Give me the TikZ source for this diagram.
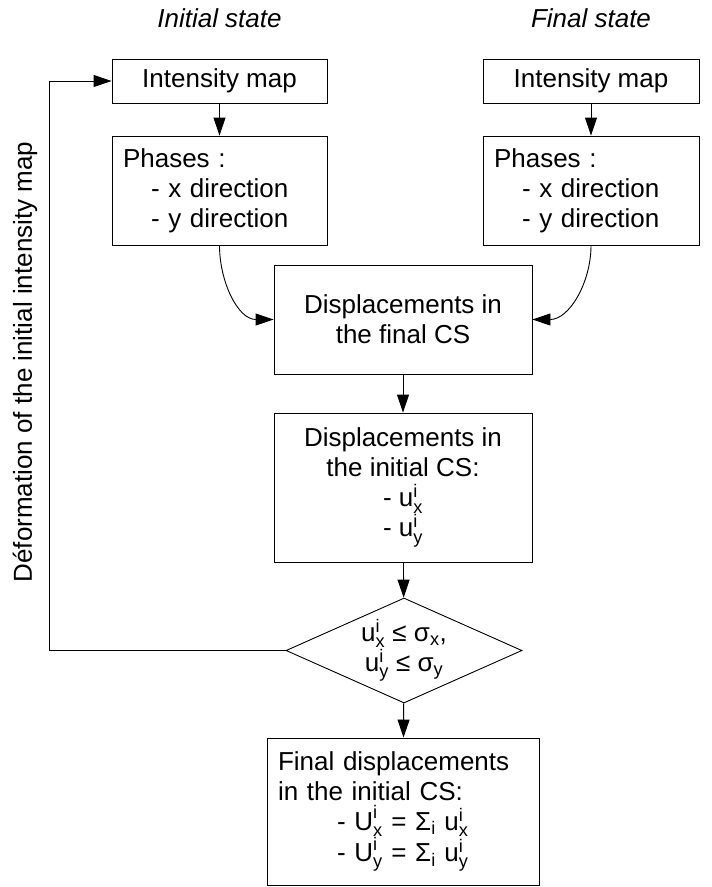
\documentclass[tikz,border=0pt]{standalone}
\usepackage{fontspec}
\setmainfont{Liberation Sans}
\usepackage{amsmath}
\usetikzlibrary{arrows.meta,shapes.geometric}
\tikzset{
  txt/.style={font=\fontsize{26}{30}\selectfont},
  head/.style={font=\fontsize{26}{30}\selectfont\itshape},
  blk/.style={txt, draw, inner sep=0pt, align=center},
  lblk/.style={txt, draw, inner ysep=0pt, inner xsep=11pt, align=left}
}
\newcommand{\idx}[3]{$\text{#1}^{\text{#3}}_{\text{#2}}$}
\newcommand{\lowidx}[2]{$\text{#1}_{\text{#2}}$}

\begin{document}
\begin{tikzpicture}[x=1pt,y=-1pt,line width=0.9pt,>={Triangle[length=18pt,width=12pt]}]
\useasboundingbox (0,0) rectangle (712,887);

\node[head] (initial) at (219.5,18) {Initial state};
\node[head] (final) at (591,18) {Final state};

\node[blk, minimum width=215pt, minimum height=44pt] (imapL) at (219.5,81) {Intensity map};
\node[blk, minimum width=216pt, minimum height=44pt] (imapR) at (591,81) {Intensity map};

\node[lblk, text width=193pt, minimum height=109pt] (phL) at (219.5,190.5)
  {Phases :\\\hspace*{28pt}- x direction\\\hspace*{28pt}- y direction};
\node[lblk, text width=194pt, minimum height=109pt] (phR) at (591,190.5)
  {Phases :\\\hspace*{28pt}- x direction\\\hspace*{28pt}- y direction};

\node[blk, minimum width=258pt, minimum height=109pt] (dispF) at (403,319.5)
  {Displacements in\\the final CS};
\node[blk, minimum width=258pt, minimum height=149pt] (dispI) at (403,487.5)
  {Displacements in\\the initial CS:\\- \idx{u}{x}{i}\\- \idx{u}{y}{i}};

\node[blk, shape=diamond, aspect=2.25, minimum width=236pt, minimum height=105pt] (test) at (404,650.5)
  {\idx{u}{x}{i} ≤ \lowidx{σ}{x},\\\idx{u}{y}{i} ≤ \lowidx{σ}{y}};

\node[lblk, text width=250pt, minimum height=147pt] (result) at (403,811.5)
  {Final displacements\\in the initial CS:\\\hspace*{59pt}- \idx{U}{x}{i} = \lowidx{Σ}{i} \idx{u}{x}{i}\\\hspace*{59pt}- \idx{U}{y}{i} = \lowidx{Σ}{i} \idx{u}{y}{i}};

\node[txt, rotate=90] (deform) at (25,362) {Déformation of the initial intensity map};
\coordinate (back) at (49,81);

\draw[->] (imapL) -- (phL);
\draw[->] (imapR) -- (phR);
\draw[->] (phL.south) to[out=-90,in=180] (dispF.west);
\draw[->] (phR.south) to[out=-90,in=0] (dispF.east);
\draw[->] (dispF) -- (dispI);
\draw[->] (dispI) -- (test);
\draw[->] (test) -- (result);
\draw[->] (test.west) -| (back) -- (imapL.west);
\end{tikzpicture}
\end{document}
